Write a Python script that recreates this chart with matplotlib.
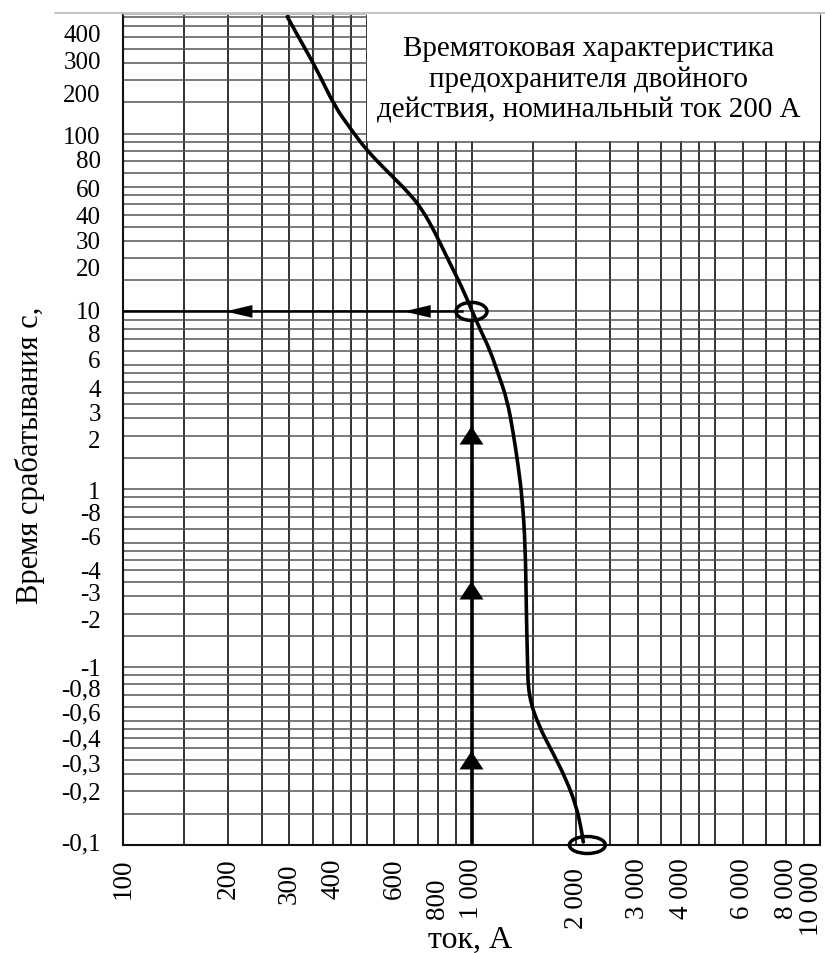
import matplotlib
matplotlib.use("Agg")
import numpy as np
import matplotlib.pyplot as plt
from matplotlib.patches import Ellipse, Rectangle, PathPatch
from matplotlib.path import Path
from matplotlib.ticker import FixedLocator, FixedFormatter, NullFormatter
from matplotlib.transforms import ScaledTranslation
from matplotlib.lines import Line2D

plt.rcParams['font.family'] = ['Liberation Serif', 'DejaVu Serif']

# time-current curve (current A, time s)
curve_current = [296, 322, 360, 405, 452, 499, 579, 660, 722, 786, 856, 937,
                 1005, 1069, 1128, 1191, 1265, 1317, 1362, 1399, 1427, 1437,
                 1447, 1457, 1557, 1711, 1867, 1997, 2065, 2093]
curve_time = [454, 337, 229, 142, 105, 81, 60, 46.6, 37.4, 27.8, 19.6, 13.8,
              10, 7.6, 6.1, 4.5, 3.2, 2.09, 1.35, 0.88, 0.48, 0.204,
              0.111, 0.069, 0.047, 0.033, 0.0235, 0.0166, 0.0123, 0.0104]

# reading at 1000 A -> 10 s
read_current = 1000
read_time = 10
end_current = 2150
end_time = 0.01

# arrow heads: (tip, base)
left_arrows = [(197, 245), (640, 780)]
up_arrows = [(2.26, 1.6), (0.304, 0.2), (0.0337, 0.022)]

x_ticks = [100, 200, 300, 400, 600, 800, 1000, 2000, 3000, 4000, 6000, 8000, 10000]
x_labels = ['100', '200', '300', '400', '600', '800', '1 000', '2 000', '3 000',
            '4 000', '6 000', '8 000', '10 000']
y_ticks = [0.01, 0.02, 0.03, 0.04, 0.06, 0.08, 0.1, 0.2, 0.3, 0.4, 0.6, 0.8,
           1, 2, 3, 4, 6, 8, 10, 20, 30, 40, 60, 80, 100, 200, 300, 400]
y_labels = ['-0,1', '-0,2', '-0,3', '-0,4', '-0,6', '-0,8', '-1', '-2', '-3', '-4',
            '-6', '-8', '1', '2', '3', '4', '6', '8', '10', '20', '30', '40', '60',
            '80', '100', '200', '300', '400']
steps = [1, 1.5, 2, 2.5, 3, 3.5, 4, 4.5, 5, 6, 7, 8, 9]

title = "Времятоковая характеристика\nпредохранителя двойного\nдействия, номинальный ток 200 А"

fig = plt.figure(figsize=(8.25, 9.54), dpi=100)
ax = fig.add_axes([123/825, (954-846)/954, (820-123)/825, (846-15)/954])
ax.set_xscale('log')
ax.set_yscale('log')
ax.set_xlim(100, 10000)
ax.set_ylim(0.01, 470)

# paper grid
x_grid = [d*s for d in [100, 1000] for s in steps] + [10000]
y_grid = [d*s for d in [0.01, 0.1, 1, 10, 100] for s in steps if d*s <= 470]
for xv in x_grid:
    ax.axvline(xv, color='#222222', lw=1.3, zorder=1)
for yv in y_grid:
    ax.axhline(yv, color='#555555', lw=1.1, zorder=1)

ax.xaxis.set_major_locator(FixedLocator(x_ticks))
ax.xaxis.set_major_formatter(FixedFormatter(x_labels))
ax.yaxis.set_major_locator(FixedLocator(y_ticks))
ax.yaxis.set_major_formatter(FixedFormatter(y_labels))
ax.xaxis.set_minor_locator(FixedLocator([]))
ax.yaxis.set_minor_locator(FixedLocator([]))
ax.xaxis.set_minor_formatter(NullFormatter())
ax.yaxis.set_minor_formatter(NullFormatter())
ax.tick_params(axis='both', length=0)
ax.tick_params(axis='x', pad=9, labelrotation=90, labelsize=19.5)
ax.tick_params(axis='y', pad=16, labelsize=18)

# the scanned labels sit a little off their lines (pixels, +down)
x_shift = {'300': (0, 5), '800': (0, 20), '2 000': (0, 10), '10 000': (-9, 3)}
y_shift = {'400': 6, '300': 11, '200': 13, '100': 1, '80': 8, '60': 14, '40': 10,
           '30': 13, '20': 9, '10': -2, '8': 4, '6': 8, '4': 5, '3': 7, '2': 3,
           '-8': 5, '-6': 7, '-4': 9, '-3': 9, '-2': 5, '-1': -1, '-0,8': 3,
           '-0,6': 4, '-0,4': -1, '-0,3': 2, '-0,2': -2, '-0,1': -4}
for lab in ax.get_xticklabels():
    if lab.get_text() in x_shift:
        dx, dy = x_shift[lab.get_text()]
        lab.set_transform(lab.get_transform() +
                          ScaledTranslation(dx/100, -dy/100, fig.dpi_scale_trans))
for lab in ax.get_yticklabels():
    if lab.get_text() in y_shift:
        dy = y_shift[lab.get_text()]
        lab.set_transform(lab.get_transform() +
                          ScaledTranslation(0, -dy/100, fig.dpi_scale_trans))

for sp in ['left', 'bottom', 'right']:
    ax.spines[sp].set_color('#111111')
    ax.spines[sp].set_linewidth(1.5)
ax.spines['top'].set_color('#bbbbbb')

# curve: smooth quadratic path through the read points
pts = list(zip(curve_current, curve_time))
verts = [pts[0]]
codes = [Path.MOVETO]
for i in range(1, len(pts) - 1):
    mid = (np.sqrt(pts[i][0]*pts[i+1][0]), np.sqrt(pts[i][1]*pts[i+1][1]))
    verts += [pts[i], mid]
    codes += [Path.CURVE3, Path.CURVE3]
verts.append(pts[-1])
codes.append(Path.LINETO)
ax.add_patch(PathPatch(Path(verts, codes), fill=False, edgecolor='black',
                       lw=2.6, capstyle='round', joinstyle='round', zorder=5))

# reading lines
ax.plot([100, read_current*0.94], [read_time, read_time], color='black', lw=1.8, zorder=4)
ax.plot([read_current, read_current], [0.01, read_time*0.88], color='black', lw=2.6, zorder=4)

for tip, base in left_arrows:
    ax.annotate('', xy=(tip, read_time), xytext=(base, read_time),
                arrowprops=dict(arrowstyle='-|>,head_length=1.9,head_width=0.45',
                                color='black', lw=0.1, shrinkA=0, shrinkB=0,
                                mutation_scale=10), zorder=6)
for tip, base in up_arrows:
    ax.annotate('', xy=(read_current, tip), xytext=(read_current, base),
                arrowprops=dict(arrowstyle='-|>,head_length=1.3,head_width=0.85',
                                color='black', lw=0.1, shrinkA=0, shrinkB=0,
                                mutation_scale=10), zorder=6)

# circles
for (cx, cy, w, h) in [(read_current, read_time, 0.31, 0.18), (end_current, end_time, 0.36, 0.17)]:
    tr = fig.dpi_scale_trans + ScaledTranslation(cx, cy, ax.transData)
    ax.add_artist(Ellipse((0, 0), w, h, transform=tr, fill=False,
                          edgecolor='black', lw=2.5, zorder=7, clip_on=False))

# caption box
ax.add_patch(Rectangle((0.350, 0.847), 0.65, 0.153, transform=ax.transAxes,
                       facecolor='white', edgecolor='none', zorder=8))
ax.text(0.668, 0.922, title, transform=ax.transAxes, ha='center', va='center',
        fontsize=21, linespacing=1.22, zorder=9)

ax.set_xlabel('ток, А', fontsize=23)
ax.xaxis.set_label_coords(0.498, -0.096)
ax.set_ylabel('Время срабатывания с,', fontsize=22)
ax.yaxis.set_label_coords(-0.112, 0.47)

fig.add_artist(Line2D([55/825, 1], [1-14/954, 1-14/954], color='#bbbbbb', lw=1.2))

fig.savefig('out.png', dpi=100, facecolor='white')
